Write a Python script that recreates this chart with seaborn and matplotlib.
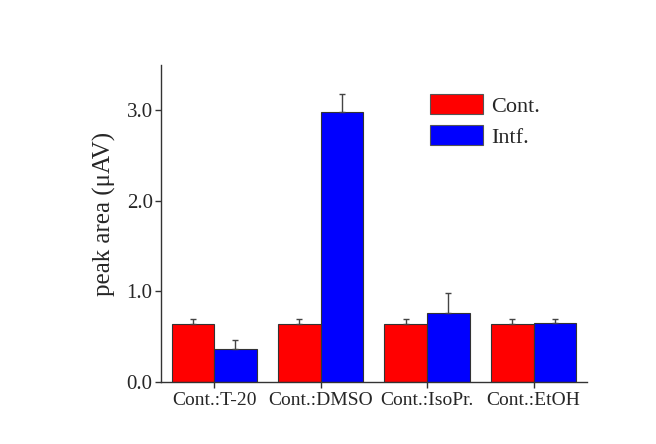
import numpy as np
import pandas as pd
import matplotlib
matplotlib.use("Agg")
import matplotlib.pyplot as plt
import seaborn as sns

# Data
categories = ["Cont.:T-20", "Cont.:DMSO", "Cont.:IsoPr.", "Cont.:EtOH"]
series = ["Cont.", "Intf."]
cont_values = [0.645, 0.645, 0.645, 0.645]
cont_errors = [0.055, 0.055, 0.055, 0.055]
intf_values = [0.363, 2.98, 0.766, 0.656]
intf_errors = [0.105, 0.20, 0.22, 0.045]
y_ticks = [0.0, 1.0, 2.0, 3.0]
y_tick_labels = ["0.0", "1.0", "2.0", "3.0"]
colors = {"Cont.": "#ff0000", "Intf.": "#0000ff"}

df = pd.DataFrame({
    "group": categories * 2,
    "series": [series[0]] * len(categories) + [series[1]] * len(categories),
    "value": cont_values + intf_values,
})
errors = {series[0]: cont_errors, series[1]: intf_errors}

sns.set_style("ticks")
plt.rcParams["font.family"] = ["Liberation Serif", "DejaVu Serif"]

fig = plt.figure(figsize=(6.56, 4.44), dpi=100)
ax = fig.add_axes([0.2454, 0.1396, 0.6490, 0.7140])

sns.barplot(data=df, x="group", y="value", hue="series", order=categories,
            hue_order=series, palette=colors, errorbar=None, width=0.8,
            edgecolor="#333333", linewidth=0.8, saturation=1, ax=ax)

# Upper-only error bars on each bar
for container, name in zip(ax.containers, series):
    xs = [p.get_x() + p.get_width() / 2 for p in container.patches]
    hs = [p.get_height() for p in container.patches]
    err = errors[name]
    ax.errorbar(xs, hs, yerr=[np.zeros(len(err)), err], fmt="none",
                ecolor="#444444", elinewidth=1.0, capsize=2.2, capthick=1.0,
                zorder=1)

ax.set_xlim(-0.5, 3.5)
ax.set_ylim(0, 3.5)
ax.set_yticks(y_ticks)
ax.set_yticklabels(y_tick_labels)
ax.set_xlabel("")
ax.set_ylabel("peak area (\u03bcAV)", fontsize=18)
ax.yaxis.set_label_coords(-0.106, 0.53)
ax.tick_params(axis="both", direction="out", length=4, width=1,
               color="#333333")
ax.tick_params(axis="y", labelsize=15, pad=2)
ax.tick_params(axis="x", labelsize=14, pad=3)
sns.despine(ax=ax)
for s in ("left", "bottom"):
    ax.spines[s].set_color("#333333")
    ax.spines[s].set_linewidth(1.0)

leg = ax.legend(loc="upper left", bbox_to_anchor=(430 / 656, 1 - 94 / 444),
                bbox_transform=fig.transFigure, frameon=False, fontsize=16,
                handlelength=2.4, handleheight=1.0, handletextpad=0.35,
                labelspacing=0.4, borderpad=0, borderaxespad=0)
for h in leg.legend_handles:
    h.set_edgecolor("#555555")
    h.set_linewidth(0.8)

fig.savefig("out.png", dpi=100)
